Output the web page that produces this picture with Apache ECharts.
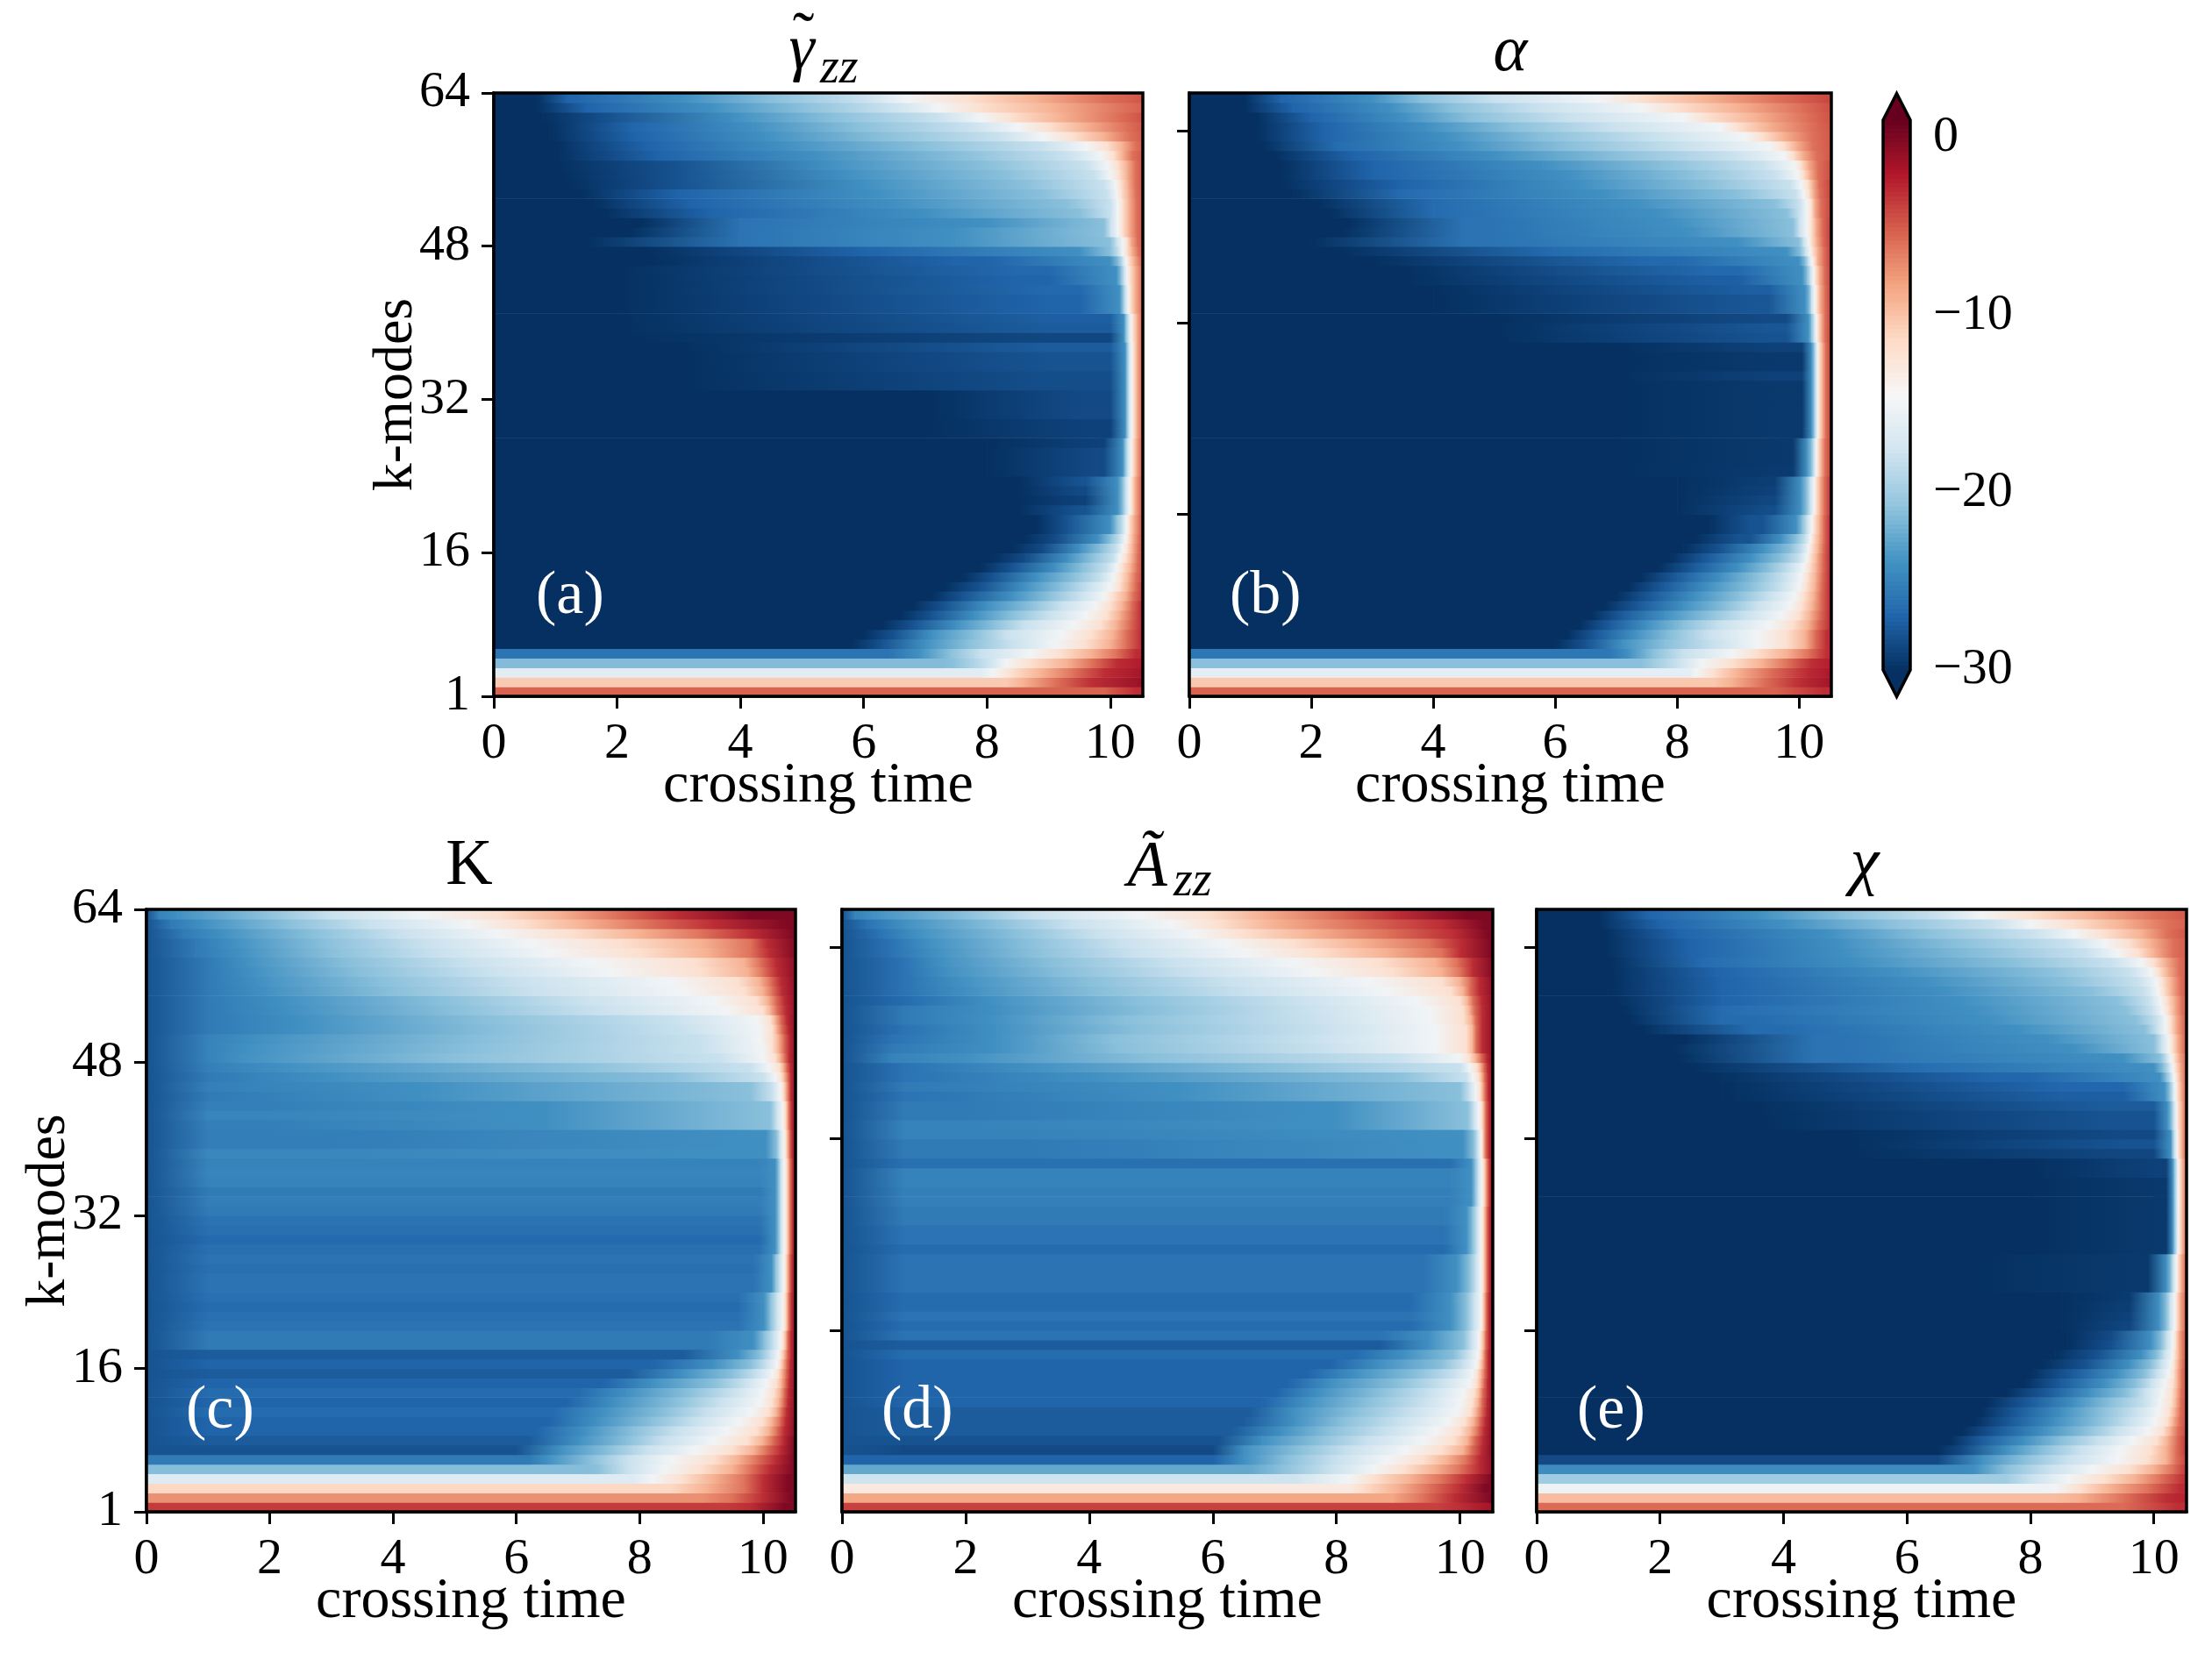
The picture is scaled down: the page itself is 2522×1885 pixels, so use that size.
<!DOCTYPE html>
<html><head><meta charset="utf-8">
<style>html,body{margin:0;padding:0;background:#fff}#c{width:2522px;height:1885px}</style>
<script src="https://cdn.jsdelivr.net/npm/echarts@6/dist/echarts.min.js"></script>
</head><body><div id="c"></div>
<script>
const xTicks=[0,2,4,6,8,10];
const yTicksLabelled=[1,16,32,48,64];
const yTicksPlain=[20,40,60];
const cbTicks=[0,-10,-20,-30];
const crossLevels=[-24,-21,-18,-15,-12,-9,-6,-3,0];
// first k of each group of rows in the tables below
const rowStarts=[1,2,3,4,5,6,7,8,9,10,11,12,13,14,15,16,17,18,20,24,28,33,38,41,44,46,47,48,49,50,51,52,53,54,55,56,57,58,59,60,61,62,63];
// each row: rise start, rise end, plateau end, then the time the row reaches each of crossLevels
const gammaTimes=[
[0,0,9.9,0,0,0,0,0,0,0,10.4],[0,0,8.3,0,0,0,0,0,8.6,9.1,9.7,11],[0,0,7.9,0,0,0,8.1,8.4,8.9,9.4,9.9,11.2],[0,0,7.3,0,7.45,8,8.3,8.7,9.3,9.7,10.1,11.5],[0,0,6.4,6.9,7.4,7.9,8.7,9.2,9.7,10.1,10.4,12],
[5.8,6.3,6.3,7,7.7,8.4,9.1,9.6,10,10.25,10.5],[6,6.5,6.5,7.1,7.8,8.3,9.2,9.7,10.05,10.25,10.5],[6.3,6.8,6.8,7.5,8.1,8.6,9.4,9.85,10.1,10.3,10.5],[6.6,7.1,7.1,7.8,8.4,9,9.6,9.95,10.15,10.32,10.5],[6.8,7.3,7.3,8,8.7,9.2,9.75,10,10.2,10.34,10.5],
[7.1,7.6,7.6,8.4,9,9.5,9.9,10.05,10.25,10.37,10.55],[7.3,7.9,7.9,8.6,9.2,9.65,10,10.15,10.28,10.4,10.55],[7.6,8.1,8.1,8.8,9.4,9.85,10.05,10.17,10.3,10.41,10.6],[7.9,8.4,8.4,9.1,9.55,9.95,10.1,10.2,10.33,10.43,10.6],[8.1,8.6,8.6,9.3,9.7,10.05,10.15,10.25,10.35,10.44,10.6],
[8.4,8.9,8.9,9.5,9.85,10.1,10.2,10.28,10.36,10.45,10.6],[8.6,9.1,9.1,9.8,10,10.15,10.24,10.3,10.37,10.46,10.6],[8.8,9.3,9.3,10,10.1,10.2,10.26,10.31,10.38,10.47,10.6],[8.5,9.5,9.6,10.12,10.2,10.25,10.31,10.35,10.4,10.48,10.65],[8,9.8,9.9,10.2,10.24,10.28,10.33,10.37,10.42,10.49,10.7],
[7,9.5,10,10.24,10.27,10.3,10.34,10.38,10.43,10.5,10.7],[3,9,10,10.24,10.27,10.3,10.34,10.38,10.43,10.5,10.7],[2,9,10,10.22,10.25,10.29,10.33,10.37,10.43,10.5,10.7],[2,9,9.5,10.15,10.2,10.24,10.29,10.33,10.4,10.5,10.7],[2,8.5,9,10.1,10.17,10.22,10.27,10.32,10.4,10.5,10.7],
[2.5,7.5,8,10,10.13,10.2,10.25,10.3,10.38,10.48,10.7],[2.5,6,6,9.5,10,10.13,10.2,10.27,10.35,10.45,10.7],[1.5,4,4,7.5,10,10.1,10.2,10.27,10.33,10.43,10.7],[2.2,4,4,7.5,9.9,10,10.12,10.2,10.3,10.42,10.7],[2.4,4,4,8,9.9,10,10.12,10.2,10.3,10.42,10.7],
[1.8,3.5,3.5,7,9.5,10,10.12,10.2,10.3,10.42,10.7],[1.6,3.2,3.2,6.5,9.3,10,10.12,10.2,10.3,10.42,10.7],[1.4,3,3,6.2,8.9,9.95,10.1,10.18,10.29,10.41,10.7],[1.2,3,3,6,8.6,9.9,10.08,10.17,10.28,10.4,10.7],[1.1,3,3,5.7,8.3,9.75,10,10.14,10.27,10.4,10.7],
[1,3,3,5.4,8,9.6,9.95,10.12,10.27,10.4,10.7],[1,2.7,2.7,5.2,7.6,9.3,9.85,10.05,10.2,10.35,10.8],[1,2.5,2.5,4.7,7,8.9,9.6,9.95,10.2,10.4,10.9],[.9,2.3,2.3,4.4,6.3,8.2,8.9,9.4,9.9,10.3,11],[.9,2.2,2.2,4.2,5.9,7.7,8.5,9,9.6,10.25,11],
[.8,1.9,1.9,3.9,5.5,7.2,7.9,8.4,9.2,10.1,11],[.7,1.5,1.5,3.5,5,6.4,7.2,7.9,9.1,10.2,11.5],[.7,1.2,1.2,3.1,4.5,6,6.7,7.7,8.8,9.85,11.5]];
const alphaTimes=[
[0,0,9.6,0,0,0,0,0,0,0,10.4],[0,0,8.6,0,0,0,0,0,8.9,9.4,10,11],[0,0,8.2,0,0,0,8.3,8.6,9,9.5,10.1,11.2],[0,0,7.4,0,7.6,8,8.4,8.9,9.4,9.8,10.2,11.5],[0,0,6.9,7.2,7.6,8.1,8.9,9.3,9.8,10.15,10.45],
[6,6.5,6.5,7.1,7.8,8.6,9.3,9.8,10.1,10.25,10.45],[6.2,6.7,6.7,7.3,7.9,8.5,9.3,9.8,10.1,10.25,10.45],[6.4,6.9,6.9,7.5,8.1,8.7,9.5,9.9,10.15,10.3,10.5],[6.6,7.1,7.1,7.8,8.5,9.1,9.7,10,10.18,10.33,10.5],[6.8,7.4,7.4,8.1,8.8,9.3,9.85,10.05,10.22,10.35,10.5],
[7,7.6,7.6,8.3,9,9.5,9.92,10.08,10.24,10.35,10.5],[7.2,7.8,7.8,8.5,9.2,9.7,10,10.12,10.26,10.36,10.5],[7.4,8,8,8.7,9.3,9.75,10.03,10.14,10.27,10.37,10.5],[7.7,8.3,8.3,9,9.5,9.85,10.07,10.17,10.28,10.38,10.5],[7.9,8.5,8.5,9.2,9.7,10,10.12,10.19,10.29,10.38,10.5],
[8.1,8.7,8.7,9.4,9.85,10.05,10.15,10.21,10.31,10.39,10.5],[8.3,9,9.2,9.7,9.95,10.1,10.18,10.23,10.32,10.4,10.5],[8.5,9.2,9.4,9.95,10.05,10.13,10.2,10.25,10.33,10.4,10.5],[8,9.5,9.6,10.02,10.12,10.18,10.24,10.28,10.34,10.41,10.52],[7,9.7,9.9,10.12,10.2,10.24,10.28,10.31,10.36,10.42,10.55],
[7,9.5,10.05,10.2,10.24,10.27,10.3,10.33,10.38,10.43,10.55],[7,9.5,10.05,10.2,10.24,10.27,10.3,10.33,10.38,10.43,10.55],[5,9.5,9.8,10.15,10.2,10.24,10.28,10.31,10.36,10.42,10.55],[4,9.2,9.5,10.1,10.17,10.2,10.25,10.29,10.34,10.42,10.55],[3.5,8.5,9,10.05,10.13,10.18,10.23,10.27,10.33,10.41,10.55],
[3,7.5,8,10,10.1,10.15,10.2,10.25,10.3,10.4,10.55],[2.5,6,6,9.8,10.02,10.1,10.17,10.22,10.3,10.4,10.55],[2,4.5,5,9,10,10.07,10.15,10.2,10.28,10.38,10.55],[2.5,4.5,5,8.2,9.9,10,10.12,10.2,10.27,10.37,10.55],[2.6,4.5,5,8,9.9,10,10.12,10.2,10.27,10.37,10.55],
[2.3,4,4,7.7,9.8,10,10.12,10.2,10.25,10.35,10.6],[2.1,4,4,7.3,9.6,10,10.12,10.2,10.25,10.35,10.6],[1.7,3.5,3.5,6.8,9,9.95,10.07,10.16,10.23,10.33,10.6],[1.5,3.5,3.5,6.4,8.5,9.85,10.03,10.14,10.22,10.32,10.6],[1.5,3,3,6.2,8.2,9.6,9.97,10.07,10.17,10.3,10.7],
[1.5,3,3,5.8,7.8,9.4,9.92,10.03,10.14,10.3,10.7],[1.4,2.7,2.7,5,7,8.9,9.75,9.9,10.05,10.27,10.9],[1.2,2.4,2.4,4.4,6.2,8.1,9.5,9.75,9.95,10.22,11],[1.1,2.2,2.2,4.2,5.8,7.6,9.1,9.4,9.75,10.2,11],[1.1,2.2,2.2,3.9,5.3,6.9,8.7,9,9.5,10.17,11],
[1.1,2,2,3.5,4.6,6.2,8.1,8.5,9.3,10.1,11],[.9,1.7,1.7,3.3,4.3,5.7,7.4,8,9,10,11],[.9,1.5,1.5,3,3.8,5,6.7,7.4,8.5,9.6,11]];
const kTimes=[
[0,0,9.4,0,0,0,0,0,0,0,9.8,10.35],[0,0,9,0,0,0,0,0,0,9.5,10,10.45],[0,0,8.5,0,0,0,0,0,9.1,9.7,10,10.4],[0,0,7.9,0,0,0,8.2,8.7,9.2,9.7,10,10.4],[0,0,7.1,0,7.3,7.8,8.4,9,9.5,9.8,10.1,10.5],
[0,0,6.2,6.5,7.2,7.8,8.5,9.2,9.6,9.9,10.2,10.5],[0,1,6,6.7,7.5,8.1,8.9,9.5,9.85,10.05,10.28,10.5],[0,1,6.2,7,7.8,8.4,9.2,9.75,10,10.15,10.32,10.5],[0,1,6.3,7.1,7.9,8.6,9.4,9.9,10.1,10.22,10.34,10.55],[0,1,6.5,7.3,8.2,8.9,9.6,10,10.15,10.27,10.36,10.55],
[0,1,6.6,7.4,8.4,9.1,9.8,10.1,10.22,10.3,10.38,10.55],[0,1,6.8,7.6,8.6,9.3,9.95,10.15,10.26,10.33,10.4,10.55],[0,1,7,7.8,8.8,9.5,10,10.18,10.28,10.34,10.41,10.55],[0,1,7.4,8.2,9.2,9.7,10.05,10.22,10.3,10.36,10.42,10.55],[0,1,7.8,8.7,9.5,9.9,10.15,10.25,10.31,10.37,10.43,10.55],
[0,1,8.2,9.2,9.8,10.05,10.22,10.28,10.33,10.38,10.44,10.55],[0,1,8.7,9.6,9.95,10.12,10.25,10.3,10.35,10.39,10.45,10.55],[0,1,9.1,9.85,10.02,10.17,10.28,10.33,10.37,10.4,10.45,10.55],[0,1,9.6,10.02,10.12,10.22,10.31,10.36,10.39,10.42,10.46,10.55],[0,1,9.85,10.14,10.2,10.27,10.33,10.37,10.4,10.43,10.47,10.55],
[0,1,9.95,10.2,10.25,10.29,10.34,10.38,10.41,10.44,10.48,10.55],[0,1,9.95,10.2,10.25,10.29,10.34,10.38,10.41,10.44,10.48,10.55],[0,1,3,10.05,10.22,10.27,10.33,10.37,10.4,10.43,10.47,10.55],[0,1,2,6.5,10.12,10.22,10.31,10.36,10.39,10.42,10.46,10.55],[0,1,1,4.5,9.8,10.15,10.27,10.33,10.37,10.41,10.45,10.55],
[0,1,1,3,8.5,10,10.2,10.3,10.35,10.4,10.45,10.55],[0,1,1,2.2,7,9.8,10.1,10.27,10.33,10.38,10.44,10.55],[0,1,1,1.5,5,9.3,10,10.2,10.28,10.35,10.42,10.55],[0,1,1,1.6,5.3,9,10,10.15,10.25,10.33,10.42,10.55],[0,1,1,1.8,5.5,9,9.95,10.15,10.25,10.33,10.42,10.55],
[0,1,1,2.5,5.7,8.7,9.95,10.15,10.22,10.3,10.4,10.55],[0,1,1,2.5,5.5,8.5,9.9,10.12,10.2,10.28,10.38,10.55],[0,1,1,2.3,5,7.3,9.4,10,10.12,10.22,10.36,10.6],[0,1,1,2.2,4.8,7,9.2,9.9,10.08,10.2,10.34,10.6],[0,1,1,1.9,4,6.2,8.7,9.7,10,10.15,10.3,10.6],
[0,1,1,1.8,3.8,6,8.5,9.6,9.95,10.12,10.28,10.6],[0,1,1,1.7,3.5,5.5,7.5,9,9.75,10,10.22,10.6],[0,1,1,1.6,3.3,5.2,7.2,8.9,9.7,9.95,10.2,10.6],[0,.8,.8,1.5,3,4.7,6.5,8,9.1,9.8,10.1,10.55],[0,.8,.8,1.4,2.9,4.5,6.2,7.7,9,9.8,10.05,10.55],
[0,.6,.6,1.2,2.7,4.1,5.7,6.9,8,9,9.8,10.5],[0,.4,.4,.9,2.3,3.6,5.2,6.1,7.1,8.1,9.2,10.4],[0,.2,.2,.5,1.9,3,4.5,5.7,6.7,7.6,8.6,9.8]];
const azzTimes=[
[0,0,9.6,0,0,0,0,0,0,0,10,11],[0,0,8.9,0,0,0,0,0,0,9.4,9.9,10.5],[0,0,8.2,0,0,0,0,8.4,9,9.5,10,10.4],[0,0,7.3,0,0,7.8,8.2,8.6,9.2,9.7,10.1,10.5],[0,0,6.6,0,7.1,7.9,8.6,9.1,9.6,10,10.3,10.6],
[0,0,6,6.5,7.2,8,8.8,9.4,9.8,10.1,10.3,10.6],[0,1,6,6.5,7.4,8.2,9.1,9.7,10.05,10.18,10.34,10.55],[0,1,6.1,6.8,7.7,8.5,9.4,9.9,10.12,10.22,10.36,10.55],[0,1,6.3,7.1,7.9,8.8,9.6,10,10.17,10.28,10.38,10.55],[0,1,6.5,7.3,8.1,9,9.8,10.08,10.22,10.31,10.4,10.55],
[0,1,6.6,7.3,8.3,9.2,9.95,10.17,10.26,10.34,10.42,10.55],[0,1,6.8,7.5,8.5,9.4,10,10.2,10.29,10.35,10.43,10.55],[0,1,7,7.7,8.7,9.5,10.05,10.23,10.31,10.36,10.44,10.55],[0,1,7.2,7.9,9,9.7,10.15,10.27,10.33,10.38,10.44,10.55],[0,1,7.5,8.3,9.3,9.9,10.2,10.28,10.34,10.39,10.45,10.55],
[0,1,7.9,8.7,9.7,10.05,10.26,10.31,10.36,10.4,10.45,10.55],[0,1,8.3,9.1,9.9,10.12,10.28,10.33,10.37,10.4,10.45,10.55],[0,1,8.7,9.5,10.05,10.18,10.3,10.34,10.38,10.41,10.46,10.55],[0,1,9.2,9.85,10.1,10.22,10.33,10.36,10.39,10.42,10.46,10.55],[0,1,9.4,9.95,10.15,10.25,10.33,10.37,10.4,10.43,10.47,10.55],
[0,1,9.75,10.1,10.2,10.27,10.33,10.37,10.4,10.43,10.47,10.55],[0,1,9.85,10.18,10.24,10.29,10.34,10.38,10.41,10.44,10.48,10.55],[0,1,3,10.05,10.22,10.28,10.33,10.36,10.38,10.41,10.46,10.55],[0,1,2,8,10.12,10.22,10.3,10.35,10.38,10.41,10.46,10.55],[0,1,1,5.5,10,10.15,10.25,10.32,10.36,10.4,10.45,10.55],
[0,1,1,4,9,10.1,10.2,10.3,10.35,10.39,10.45,10.55],[0,1,1,3,7,10,10.15,10.27,10.33,10.38,10.44,10.55],[0,.8,.8,2,5,9,10,10.15,10.25,10.33,10.42,10.55],[0,.8,.8,2.5,4.5,7.8,9.6,10.1,10.2,10.25,10.35,10.6],[0,.8,.8,2.5,4.4,7.6,9.6,10.1,10.2,10.25,10.35,10.6],
[0,1,1,2.5,4.8,7.8,9.6,10.1,10.2,10.25,10.35,10.6],[0,1,1,2.4,4.6,7.6,9.5,10.05,10.18,10.24,10.35,10.6],[0,1,1,2.5,5,7.5,9.5,10.05,10.15,10.22,10.35,10.6],[0,1,1,2.4,4.8,7.3,9.3,10,10.12,10.2,10.34,10.6],[0,1,1,2,4.2,6.5,8.8,9.85,10.05,10.15,10.3,10.6],
[0,1,1,1.9,4,6.2,8.5,9.7,10,10.15,10.3,10.6],[0,1,1,1.7,3.6,5.6,7.6,8.9,9.7,10,10.2,10.55],[0,1,1,1.6,3.4,5.3,7.3,8.7,9.6,9.95,10.2,10.55],[0,.8,.8,1.5,3.1,4.7,6.5,7.7,8.8,9.7,10,10.5],[0,.8,.8,1.4,3,4.5,6.2,7.3,8.4,9.5,10,10.5],
[0,.6,.6,1.2,2.8,4.1,5.7,6.5,7.6,8.8,9.9,10.45],[0,.4,.4,1,2.5,3.7,5.3,6.1,7,8.3,9.7,10.4],[0,.2,.2,.5,2,3.1,4.8,5.9,6.8,7.9,9,10.1]];
const chiTimes=[
[0,0,9.5,0,0,0,0,0,0,0,10.4],[0,0,8.4,0,0,0,0,0,8.8,9.5,10.2,12],[0,0,8.2,0,0,0,8.4,8.8,9.3,9.9,10.4,12],[0,0,7.6,0,0,8,8.6,9.2,9.7,10.1,10.5,12],[0,0,6.9,7.1,7.6,8.3,9,9.6,10,10.3,10.55],
[0,0,6.5,7.2,7.9,8.6,9.4,9.9,10.2,10.35,10.6],[6.5,6.9,6.9,7.6,8.2,8.8,9.45,9.95,10.2,10.35,10.55],[6.7,7.2,7.2,7.9,8.5,9.1,9.65,10.05,10.22,10.36,10.55],[6.9,7.5,7.5,8.2,8.9,9.4,9.9,10.15,10.27,10.38,10.6],[7.1,7.7,7.7,8.4,9.1,9.6,10.02,10.22,10.31,10.41,10.6],
[7.2,7.8,7.8,8.5,9.15,9.7,10.07,10.25,10.34,10.42,10.6],[7.3,8,8,8.7,9.3,9.85,10.1,10.28,10.36,10.43,10.6],[7.6,8.3,8.3,8.95,9.55,9.85,10.13,10.29,10.37,10.44,10.6],[7.9,8.5,8.5,9.2,9.7,9.95,10.17,10.31,10.38,10.45,10.6],[8,8.7,8.7,9.4,9.85,10.05,10.23,10.32,10.38,10.45,10.6],
[8.2,8.9,8.9,9.6,9.95,10.12,10.27,10.33,10.39,10.46,10.6],[8.4,9.1,9.1,9.8,10.05,10.17,10.29,10.34,10.4,10.47,10.7],[8.6,9.3,9.3,9.95,10.12,10.21,10.3,10.35,10.4,10.47,10.7],[8.5,9.5,9.6,10.08,10.2,10.26,10.33,10.37,10.42,10.49,10.7],[7,9.5,9.9,10.2,10.27,10.31,10.36,10.39,10.44,10.5,10.7],
[8,10,10.2,10.3,10.33,10.36,10.39,10.42,10.46,10.52,10.7],[8,10,10.2,10.3,10.33,10.36,10.39,10.42,10.46,10.52,10.7],[5,9.5,10,10.27,10.3,10.33,10.37,10.4,10.45,10.5,10.7],[3.5,9.2,10,10.22,10.28,10.32,10.36,10.39,10.45,10.5,10.7],[3,8.5,9.5,10.17,10.25,10.3,10.34,10.38,10.44,10.5,10.7],
[2.8,7.5,8,10.1,10.2,10.27,10.32,10.37,10.43,10.5,10.7],[2.5,6,6,10,10.15,10.24,10.3,10.35,10.42,10.5,10.7],[2.3,4.5,5,9.5,10.1,10.2,10.27,10.33,10.4,10.5,10.7],[2.2,4.5,5,8.7,10,10.12,10.23,10.3,10.38,10.48,10.7],[2.4,4.5,5,8.3,10,10.12,10.23,10.3,10.38,10.48,10.7],
[1.7,3.5,4,7.8,9.85,10.05,10.18,10.27,10.35,10.47,10.7],[1.5,3,3.5,7.3,9.7,10.05,10.18,10.27,10.35,10.47,10.7],[1.4,3,3,7.1,9.55,9.97,10.13,10.23,10.33,10.45,10.7],[1.3,3,3,6.9,9.4,9.92,10.1,10.21,10.33,10.45,10.7],[1.2,3,3,6.6,9,9.85,10.06,10.16,10.28,10.42,10.7],
[1.2,3,3,6.3,8.6,9.75,10.04,10.14,10.28,10.42,10.7],[1.2,2.9,2.9,5.8,8.3,9.6,9.95,10.08,10.22,10.4,10.8],[1.2,2.7,2.7,5.2,7.7,9.3,9.8,10,10.18,10.4,10.8],[1.1,2.5,2.5,5,7.2,8.9,9.4,9.75,10,10.3,11],[1.1,2.5,2.5,4.9,6.8,8.6,9.2,9.6,9.95,10.3,11],
[1.1,2.3,2.3,4.7,6.3,8,8.7,9.2,9.8,10.2,11],[1,2,2,4,5.7,7.4,8,8.7,9.5,10.2,11.5],[1,1.8,1.8,3.6,5,6.5,7.2,8,9,10,11.5]];
// value each row k = 1..63 holds before its final rise
const gammaPlateau=[-5.4,-10.5,-16.3,-21.3,-26,-28,-28,-28,-28,-28,-28,-28,-28,-28,-28.5,-28.5,-28.5,-28,-28,-28,-29,-28.5,-28,-28.5,-28.5,-28.5,-29,-29,-29,-28.5,-28.5,-28.5,-28.3,-28.3,-28,-28,-27.5,-28.7,-27.5,-27.3,-27,-27,-26.7,-27,-26.7,-27,-27,-26,-26,-26,-27,-27,-27,-28,-28,-28,-27,-27,-27,-27,-28,-27,-27];
const alphaPlateau=[-5.4,-10.3,-16,-21,-25.7,-28,-27.5,-27.5,-27.5,-27.5,-27.5,-27.5,-27.5,-27.5,-27.5,-28,-28,-28,-28,-28.3,-28.7,-29,-29.2,-29.4,-29.5,-29.5,-29.5,-29.5,-29.5,-29.5,-29.5,-29.5,-29.5,-29,-29.5,-29.5,-29,-28,-27.8,-28.5,-27.8,-27.8,-27.3,-27.3,-26.7,-26.7,-26.5,-26,-26,-26,-26.5,-26.5,-26.5,-27,-27,-27,-27,-26.5,-27,-27,-27,-27,-27];
const kPlateau=[-3.6,-7.4,-11.3,-16.5,-21.2,-25.5,-28,-27.5,-27,-27,-26.5,-27,-26.5,-27,-27.5,-27,-27.5,-25.5,-25.5,-26,-26.2,-26.5,-26.2,-26,-26,-26.2,-26,-26.2,-26.6,-26.2,-26,-25.5,-25.3,-25.5,-25,-24.8,-25,-24.6,-25.3,-25.3,-25.2,-24.8,-25.2,-25.5,-25.2,-25.5,-25.2,-25,-25,-25,-25.5,-25.5,-25.5,-25.5,-25.5,-25.5,-25.5,-25.5,-25.5,-25.5,-25.5,-25.5,-25];
const azzPlateau=[-3.9,-8.4,-13,-17.7,-22.5,-27,-28.5,-28,-27.5,-27.5,-27.5,-27,-27,-27,-27,-27,-26.5,-27.5,-26,-26.5,-26,-26.5,-26.5,-26,-26,-26,-26,-26.5,-26,-26,-25.5,-25.5,-25.2,-25.2,-25,-25,-26.2,-25.5,-25.5,-25,-25,-25.5,-25.5,-26,-25.5,-26,-26,-25,-25.5,-26,-26,-25.5,-25.5,-26.5,-26,-26,-26,-26,-26,-26,-26,-26,-25];
const chiPlateau=[-5.7,-9.7,-15.3,-20,-24.3,-28.5,-28.5,-27.5,-27.5,-27.5,-27.5,-27.5,-27.5,-27.5,-27.5,-28,-28,-28.2,-28.5,-28.8,-29,-29.2,-29.4,-29.5,-29.5,-29.5,-29.5,-29.5,-29.5,-29.5,-29.5,-29.5,-29.5,-29.5,-29.5,-29,-29,-28.7,-28,-28.5,-28,-28,-27.5,-27.3,-26.8,-26.8,-26.5,-26,-26,-26,-26.5,-26.5,-26.5,-27,-27,-27,-27,-26.5,-27,-27,-27,-27,-27];

const FONT='"Liberation Serif"';
const XMAX=10.53, VMIN=-30, VMAX=1;
const RDBU=['#053061','#2166ac','#4393c3','#92c5de','#d1e5f0','#f7f7f7','#fddbc7','#f4a582','#d6604d','#b2182b','#67001f'];
function hex(c){return [1,3,5].map(i=>parseInt(c.substr(i,2),16));}
function cmap(v){
  let f=(Math.min(VMAX,Math.max(VMIN,v))-VMIN)/(VMAX-VMIN)*10,i=Math.min(9,Math.floor(f));f-=i;
  const a=hex(RDBU[i]),b=hex(RDBU[i+1]);
  return 'rgb('+a.map((x,j)=>Math.round(x+(b[j]-x)*f)).join(',')+')';
}
function rowSegments(row,plateau,start){
  const pts=[];
  const t0=row[0],t1=row[1],t2=row[2];
  if(t1>t0){pts.push([0,start],[t0,start],[t1,plateau]);}else{pts.push([0,plateau]);}
  if(t2>pts[pts.length-1][0])pts.push([t2,plateau]);
  row.slice(3).forEach((t,i)=>{
    if(crossLevels[i]>plateau&&t>pts[pts.length-1][0])pts.push([t,crossLevels[i]]);
  });
  const last=pts[pts.length-1];
  if(last[0]<XMAX)pts.push([XMAX,last[1]]);
  const segs=[];
  for(let i=0;i<pts.length-1;i++){
    let [a,va]=pts[i],[b,vb]=pts[i+1];
    if(a>=XMAX)break;
    if(b>XMAX){vb=va+(vb-va)*(XMAX-a)/(b-a);b=XMAX;}
    if(b>a)segs.push([a,b,va,vb]);
  }
  return segs;
}
function panelData(times,plateaus,start){
  const out=[];
  for(let k=1;k<=63;k++){
    let g=0;while(g+1<rowStarts.length&&rowStarts[g+1]<=k)g++;
    rowSegments(times[g],plateaus[k-1],start).forEach(s=>out.push([s[0],s[1],k,k+1,s[2],s[3]]));
  }
  return out;
}
function renderCell(p,api){
  const a=api.coord([api.value(0),api.value(2)]),b=api.coord([api.value(1),api.value(3)]);
  const v0=api.value(4),v1=api.value(5);
  const fill=v0===v1?cmap(v0):new echarts.graphic.LinearGradient(0,0,1,0,[{offset:0,color:cmap(v0)},{offset:1,color:cmap(v1)}]);
  return {type:'rect',shape:{x:a[0],y:b[1],width:b[0]-a[0]+0.7,height:a[1]-b[1]+0.7},style:{fill}};
}
function renderFrame(p,api){
  const a=api.coord([api.value(0),api.value(1)]),b=api.coord([api.value(2),api.value(3)]);
  return {type:'rect',z2:10,shape:{x:a[0],y:b[1],width:b[0]-a[0],height:a[1]-b[1]},style:{fill:'none',stroke:'#000',lineWidth:3.5}};
}
const panels=[
 {left:563,top:106,width:740,height:688,times:gammaTimes,plat:gammaPlateau,start:-30,lab:true,tag:'(a)',tx:606,ty:681},
 {left:1356,top:106,width:732,height:688,times:alphaTimes,plat:alphaPlateau,start:-30,lab:false,tag:'(b)',tx:1397,ty:681},
 {left:167,top:1037,width:740,height:687,times:kTimes,plat:kPlateau,start:-28,lab:true,tag:'(c)',tx:207,ty:1610},
 {left:960,top:1037,width:742,height:687,times:azzTimes,plat:azzPlateau,start:-28,lab:false,tag:'(d)',tx:1000,ty:1610},
 {left:1752,top:1037,width:741,height:687,times:chiTimes,plat:chiPlateau,start:-30,lab:false,tag:'(e)',tx:1793,ty:1610}
];
const grids=[],xAxes=[],yAxes=[],series=[],titles=[];
const tickStyle={color:'#000',fontFamily:FONT,fontSize:58};
panels.forEach((p,i)=>{
  grids.push({left:p.left,top:p.top,width:p.width,height:p.height,show:false});
  xAxes.push({gridIndex:i,type:'value',min:0,max:XMAX,name:'crossing time',nameLocation:'middle',nameGap:70,nameMoveOverlap:false,
    nameTextStyle:{color:'#000',fontFamily:FONT,fontSize:66},
    axisLine:{show:true,lineStyle:{color:'#000',width:3.5}},
    axisTick:{show:true,length:14,lineStyle:{color:'#000',width:3},customValues:xTicks},
    axisLabel:Object.assign({show:true,margin:26,customValues:xTicks,hideOverlap:false},tickStyle),splitLine:{show:false}});
  const yv=p.lab?yTicksLabelled:yTicksPlain;
  yAxes.push({gridIndex:i,type:'value',min:1,max:64,
    name:p.lab?'k-modes':'',nameLocation:'middle',nameGap:79,nameMoveOverlap:false,nameTextStyle:{color:'#000',fontFamily:FONT,fontSize:64},
    axisLine:{show:true,lineStyle:{color:'#000',width:3.5}},
    axisTick:{show:true,length:14,lineStyle:{color:'#000',width:3},customValues:yv},
    axisLabel:Object.assign({show:p.lab,margin:27,customValues:yv,padding:[14,0,0,0]},tickStyle),splitLine:{show:false}});
  series.push({type:'custom',xAxisIndex:i,yAxisIndex:i,silent:true,animation:false,renderItem:renderCell,
    encode:{x:[0,1],y:[2,3]},data:panelData(p.times,p.plat,p.start),progressive:0});
  series.push({type:'custom',xAxisIndex:i,yAxisIndex:i,silent:true,animation:false,z:5,renderItem:renderFrame,
    encode:{x:[0,2],y:[1,3]},data:[[0,1,XMAX,64]]});
  titles.push({text:p.tag,left:p.tx,top:p.ty-40,textStyle:{color:'#fff',fontFamily:FONT,fontSize:70,fontWeight:'normal'},z:20});
});
// colour bar
const cb=5;
grids.push({left:2147,top:137,width:31,height:627,show:false});
xAxes.push({gridIndex:cb,type:'value',min:0,max:1,show:false});
yAxes.push({gridIndex:cb,type:'value',min:VMIN,max:VMAX,position:'right',
  axisLine:{show:false},
  axisTick:{show:true,length:14,lineStyle:{color:'#000',width:3},customValues:cbTicks},
  axisLabel:Object.assign({show:true,margin:26,customValues:cbTicks,padding:[14,0,0,0],formatter:v=>String(v).replace('-','\u2212')},tickStyle),splitLine:{show:false}});
const cbCells=[];
for(let i=0;i<124;i++){const v=VMIN+i*0.25;cbCells.push([0,1,v,v+0.25,v+0.125,v+0.125]);}
series.push({type:'custom',xAxisIndex:cb,yAxisIndex:cb,silent:true,animation:false,renderItem:renderCell,encode:{x:[0,1],y:[2,3]},data:cbCells});
const cbTip=1.5;
series.push({type:'custom',xAxisIndex:cb,yAxisIndex:cb,silent:true,animation:false,z:5,encode:{x:0,y:1},
  data:[[0,VMIN]],
  renderItem:function(p,api){
    const c=(x,y)=>api.coord([x,y]);
    return {type:'group',children:[
      {type:'polygon',shape:{points:[c(0,VMIN),c(1,VMIN),c(.5,VMIN-cbTip)]},style:{fill:cmap(VMIN)}},
      {type:'polygon',shape:{points:[c(0,VMAX),c(1,VMAX),c(.5,VMAX+cbTip)]},style:{fill:cmap(VMAX)}},
      {type:'polygon',shape:{points:[c(0,VMIN),c(.5,VMIN-cbTip),c(1,VMIN),c(1,VMAX),c(.5,VMAX+cbTip),c(0,VMAX)]},style:{fill:'none',stroke:'#000',lineWidth:3.5}}
    ]};
  }});
// panel titles: [text, x, top, size, italic, align]
[['\u03B3',909,17,74,true,'center'],['\u02DC',911,4,74,false,'center'],['zz',930,46,56,true,'left'],
 ['\u03B1',1717,19,74,true,'center'],
 ['K',530,947,74,false,'center'],
 ['\u00C3',1303,949,74,true,'center'],['zz',1333,973,56,true,'left'],
 ['\u03C7',2121,945,74,true,'center']].forEach(t=>{
  titles.push({text:t[0],left:t[1],top:t[2],textAlign:t[5],textStyle:{color:'#000',fontFamily:FONT,fontSize:t[3],fontStyle:t[4]?'italic':'normal',fontWeight:'normal'}});
});
const chart=echarts.init(document.getElementById('c'),null,{renderer:'canvas'});
chart.setOption({animation:false,backgroundColor:'#fff',title:titles,grid:grids,xAxis:xAxes,yAxis:yAxes,series:series});
</script></body></html>
